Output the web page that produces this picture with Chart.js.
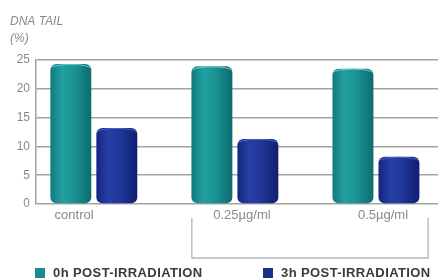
<!DOCTYPE html>
<html>
<head>
<meta charset="utf-8">
<script src="https://cdn.jsdelivr.net/npm/chart.js@4.4.1/dist/chart.umd.min.js"></script>
<style>
  html, body { margin: 0; padding: 0; background: #ffffff; }
  #wrap { width: 438px; height: 279px; position: relative; }
</style>
</head>
<body>
<div id="wrap"><canvas id="c" width="438" height="279"></canvas></div>
<script>
const categories = ['control', '0.25µg/ml', '0.5µg/ml'];
const seriesLabels = ['0h POST-IRRADIATION', '3h POST-IRRADIATION'];
const series0h = [24.3, 23.9, 23.5];
const series3h = [13.2, 11.3, 8.2];
const yTickValues = [0, 5, 10, 15, 20, 25];
const axisTitle = ['DNA TAIL', '(%)'];

const palette = [
  { base: '#178a8c', stops: ['#127a7d', '#22a0a1', '#1a9193', '#0e6c6f'], rim: '#5fd0d0' },
  { base: '#1b2f8c', stops: ['#142580', '#2740a6', '#1f3597', '#111f70'], rim: '#4a63c4' }
];
const FONT = '"Liberation Sans", Arial, sans-serif';
// label nudges (in category units) so tick text sits as in the original layout
const labelNudge = [-0.14, 0.05, 0.05];

const toPoints = arr => arr.map((v, i) => ({ x: i, y: v }));

const decorPlugin = {
  id: 'decor',
  beforeDatasetsDraw(chart) {
    const ctx = chart.ctx;
    chart.data.datasets.forEach((ds, di) => {
      const meta = chart.getDatasetMeta(di);
      meta.data.forEach(el => {
        const l = el.x - el.width / 2, r = el.x + el.width / 2;
        const g = ctx.createLinearGradient(l, 0, r, 0);
        const s = palette[di].stops;
        g.addColorStop(0, s[0]);
        g.addColorStop(0.3, s[1]);
        g.addColorStop(0.6, s[2]);
        g.addColorStop(1, s[3]);
        el.options.backgroundColor = g;
      });
    });
  },
  afterDatasetsDraw(chart) {
    const ctx = chart.ctx;
    chart.data.datasets.forEach((ds, di) => {
      const meta = chart.getDatasetMeta(di);
      meta.data.forEach(el => {
        ctx.save();
        ctx.strokeStyle = palette[di].rim;
        ctx.lineWidth = 1;
        ctx.beginPath();
        ctx.ellipse(el.x, el.y + 4, el.width / 2 - 1, 3.5, 0, Math.PI, 2 * Math.PI);
        ctx.stroke();
        ctx.restore();
      });
    });
  },
  afterDraw(chart) {
    const ctx = chart.ctx;
    const area = chart.chartArea;
    const xs = chart.scales.x;
    ctx.save();
    ctx.fillStyle = '#8a8a8a';
    ctx.font = 'italic 12px ' + FONT;
    ctx.textBaseline = 'middle';
    ctx.textAlign = 'left';
    ctx.fillText(axisTitle[0], 10, 22);
    ctx.fillText(axisTitle[1], 10, 39);
    ctx.strokeStyle = '#b5b5b5';
    ctx.lineWidth = 1.3;
    const bl = xs.getPixelForValue(0.695), br = xs.getPixelForValue(2.37);
    const bt = area.bottom + 14, bb = area.bottom + 54;
    ctx.beginPath();
    ctx.moveTo(bl, bt); ctx.lineTo(bl, bb); ctx.lineTo(br, bb); ctx.lineTo(br, bt);
    ctx.stroke();
    ctx.font = 'bold 13px ' + FONT;
    ctx.textBaseline = 'middle';
    const ly = 273;
    const lx = [35, 263];
    chart.data.datasets.forEach((ds, di) => {
      ctx.fillStyle = palette[di].base;
      ctx.fillRect(lx[di], ly - 5, 10, 10);
      ctx.fillStyle = '#3a3a3a';
      if ('letterSpacing' in ctx) ctx.letterSpacing = '0.4px';
      ctx.fillText(ds.label, lx[di] + 18, ly);
    });
    ctx.restore();
  }
};

new Chart(document.getElementById('c'), {
  type: 'bar',
  data: {
    datasets: [
      { label: seriesLabels[0], data: toPoints(series0h), backgroundColor: () => palette[0].base },
      { label: seriesLabels[1], data: toPoints(series3h), backgroundColor: () => palette[1].base }
    ]
  },
  options: {
    responsive: false,
    animation: false,
    devicePixelRatio: 1,
    categoryPercentage: 0.652,
    barPercentage: 0.89,
    borderRadius: 6,
    borderSkipped: false,
    layout: { padding: { top: 60, left: 0, right: 0, bottom: 0 } },
    plugins: {
      legend: { display: false },
      title: { display: false },
      tooltip: { enabled: false }
    },
    scales: {
      x: {
        type: 'linear',
        offset: false,
        min: -0.41,
        max: 2.44,
        afterBuildTicks: axis => { axis.ticks = categories.map((c, i) => ({ value: i + labelNudge[i] })); },
        afterFit: s => { s.height = 75; },
        grid: { display: false, drawTicks: false, offset: false },
        border: { display: false },
        ticks: {
          padding: 4,
          autoSkip: false,
          maxRotation: 0,
          color: '#8a8a8a',
          font: { family: FONT, size: 13 },
          callback: v => categories[Math.round(v)]
        }
      },
      y: {
        min: 0,
        max: 25,
        afterBuildTicks: axis => { axis.ticks = yTickValues.map(v => ({ value: v })); },
        afterFit: s => { s.width = 36; },
        grid: { color: '#a3a3a3', lineWidth: 1.5, drawTicks: false },
        border: { display: true, color: '#a3a3a3', width: 1.5 },
        ticks: {
          padding: 6,
          color: '#8a8a8a',
          font: { family: FONT, size: 12 }
        }
      }
    }
  },
  plugins: [decorPlugin]
});
</script>
</body>
</html>
